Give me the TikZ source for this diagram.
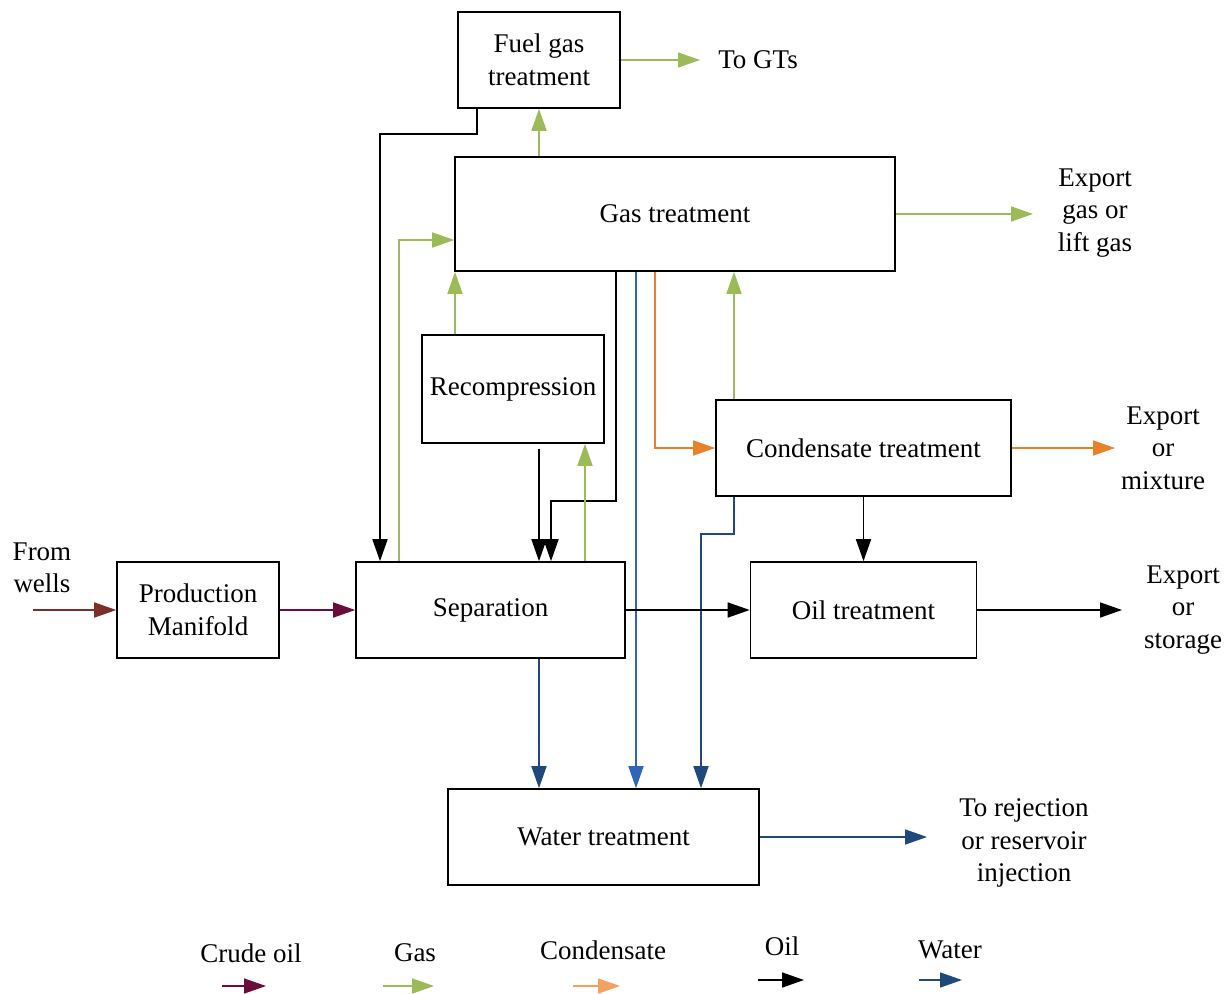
\documentclass[tikz,border=0pt]{standalone}
\usepackage{fontspec}
\setmainfont{Liberation Serif}
\usetikzlibrary{arrows.meta,calc}
\definecolor{gasc}{HTML}{9BBB59}
\definecolor{condc}{HTML}{E8822A}
\definecolor{condl}{HTML}{F5A05C}
\definecolor{crudec}{HTML}{6B0D3B}
\definecolor{wellc}{HTML}{7B2E2A}
\definecolor{waterc}{HTML}{1F497D}
\definecolor{waterl}{HTML}{2E66B8}
\begin{document}
\begin{tikzpicture}[x=1pt,y=-1pt,
  font=\fontsize{27}{32.5}\selectfont,
  box/.style={draw, line width=1.6pt, inner sep=0pt, align=center},
  lbl/.style={align=center, inner sep=0pt},
  flow/.style={line width=1.6pt, -{Triangle[length=22pt,width=15pt]}},
  gasf/.style={flow, gasc},
  oilf/.style={flow, black},
  condf/.style={flow, condc},
  waterf/.style={flow, waterc},
  waterlf/.style={flow, waterl},
  crudef/.style={flow, crudec},
  wellf/.style={flow, wellc}]
\useasboundingbox (0,0) rectangle (1231,993);
% boxes
\node[box, minimum width=162pt, minimum height=96pt] (fuel) at (539,60) {Fuel gas\\treatment};
\node[box, minimum width=440pt, minimum height=114pt] (gas) at (675,214) {Gas treatment};
\node[box, minimum width=182pt, minimum height=108pt] (recomp) at (513,389) {Recompression};
\node[box, minimum width=295pt, minimum height=96pt] (cond) at (863.5,448) {Condensate treatment};
\node[box, minimum width=162pt, minimum height=96pt] (pm) at (198,610) {Production\\Manifold};
\node[box, minimum width=269pt, minimum height=96pt] (sep) at (490.5,610) {Separation};
\node[box, minimum width=226pt, minimum height=96pt] (oil) at (863.5,610) {Oil treatment};
\node[box, minimum width=311pt, minimum height=96pt] (water) at (603.5,837) {Water treatment};
% column coordinates
\coordinate (c380) at (380,0);
\coordinate (c399) at (399,0);
\coordinate (c455) at (455,0);
\coordinate (c477) at (477,0);
\coordinate (c539) at (539,0);
\coordinate (c551) at (551,0);
\coordinate (c585) at (585,0);
\coordinate (c616) at (616,0);
\coordinate (c636) at (636,0);
\coordinate (c655) at (655,0);
\coordinate (c701) at (701,0);
\coordinate (c734) at (734,0);
% free ends
\coordinate (fw) at (33,610);
\coordinate (gts) at (700,60);
\coordinate (eg) at (1033,214);
\coordinate (em) at (1115,448);
\coordinate (es) at (1122,610);
\coordinate (ew) at (927,837);
% labels
\node[lbl] (lwells) at (42,568) {From\\wells};
\node[lbl] (lgts) at (758,60) {To GTs};
\node[lbl] (lgas) at (1095,213) {Export\\gas or\\lift gas};
\node[lbl] (lmix) at (1163,448) {Export\\or\\mixture};
\node[lbl] (lsto) at (1183,610) {Export\\or\\storage};
\node[lbl] (lrej) at (1024,843) {To rejection\\or reservoir\\injection};
% connectors
\draw[wellf] (fw) -- (pm.west);
\draw[crudef] (pm.east) -- (sep.west);
\draw[gasf] (fuel.east) -- (gts);
\draw[gasf] (c539 |- gas.north) -- (c539 |- fuel.south);
\draw[oilf] (c477 |- fuel.south) -- ++(0,25) -| (c380 |- sep.north);
\draw[gasf] (c399 |- sep.north) |- ($(gas.west)+(0,26)$);
\draw[gasf] (c455 |- recomp.north) -- (c455 |- gas.south);
\draw[oilf] ($(c539 |- recomp.south)+(0,5)$) -- (c539 |- sep.north);
\draw[oilf] (c616 |- gas.south) -- ++(0,229) -| (c551 |- sep.north);
\draw[gasf] (c585 |- sep.north) -- (c585 |- recomp.south);
\draw[waterlf] (c636 |- gas.south) -- (c636 |- water.north);
\draw[condf] (c655 |- gas.south) |- (cond.west);
\draw[gasf] (c734 |- cond.north) -- (c734 |- gas.south);
\draw[gasf] (gas.east) -- (eg);
\draw[condf] (cond.east) -- (em);
\draw[oilf] (cond.south) -- (oil.north);
\draw[waterf] (c734 |- cond.south) -- ++(0,37) -| (c701 |- water.north);
\draw[oilf] (sep.east) -- (oil.west);
\draw[oilf] (oil.east) -- (es);
\draw[waterf] (c539 |- sep.south) -- (c539 |- water.north);
\draw[waterf] (water.east) -- (ew);
% legend
\node[lbl] (lg1) at (251,953) {Crude oil};
\node[lbl] (lg2) at (415,953) {Gas};
\node[lbl] (lg3) at (603,950) {Condensate};
\node[lbl] (lg4) at (782,946) {Oil};
\node[lbl] (lg5) at (950,950) {Water};
\coordinate (a1) at (222,986); \coordinate (b1) at (266,986);
\coordinate (a2) at (383,986); \coordinate (b2) at (434,986);
\coordinate (a3) at (573,986); \coordinate (b3) at (620,986);
\coordinate (a4) at (758,980); \coordinate (b4) at (804,980);
\coordinate (a5) at (919,980); \coordinate (b5) at (962,980);
\draw[crudef] (a1) -- (b1);
\draw[gasf] (a2) -- (b2);
\draw[flow, condl] (a3) -- (b3);
\draw[oilf] (a4) -- (b4);
\draw[waterf] (a5) -- (b5);
\end{tikzpicture}
\end{document}
